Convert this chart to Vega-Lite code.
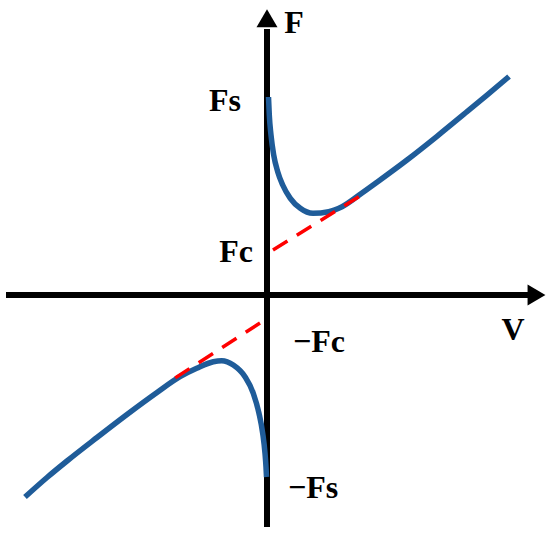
{
  "$schema": "https://vega.github.io/schema/vega-lite/v6.json",
  "width": 550,
  "height": 534,
  "autosize": "none",
  "padding": 0,
  "background": "white",
  "config": {"view": {"stroke": null}},
  "datasets": {
    "axes": [
      {"x1": -26.1, "y1": 0, "x2": 26.4, "y2": 0},
      {"x1": 0, "y1": -23.2, "x2": 0, "y2": 26.6}
    ],
    "arrowUp": [{"v": 0, "f": 27.68}],
    "arrowRight": [{"v": 26.95, "f": 0}],
    "curve": [
      {"branch": "pos", "v": 0.15, "f": 19.8},
      {"branch": "pos", "v": 0.23, "f": 18.0},
      {"branch": "pos", "v": 0.4, "f": 16.0},
      {"branch": "pos", "v": 0.67, "f": 14.0},
      {"branch": "pos", "v": 1.07, "f": 12.33},
      {"branch": "pos", "v": 1.57, "f": 11.0},
      {"branch": "pos", "v": 2.33, "f": 9.67},
      {"branch": "pos", "v": 3.33, "f": 8.67},
      {"branch": "pos", "v": 4.6, "f": 8.17},
      {"branch": "pos", "v": 6.17, "f": 8.33},
      {"branch": "pos", "v": 7.5, "f": 8.83},
      {"branch": "pos", "v": 9.5, "f": 10.2},
      {"branch": "pos", "v": 11, "f": 11.28},
      {"branch": "pos", "v": 14, "f": 13.5},
      {"branch": "pos", "v": 17, "f": 15.87},
      {"branch": "pos", "v": 20, "f": 18.33},
      {"branch": "pos", "v": 22, "f": 19.99},
      {"branch": "pos", "v": 24.2, "f": 21.85},
      {"branch": "neg", "v": -0.05, "f": -18.2},
      {"branch": "neg", "v": -0.1, "f": -17.2},
      {"branch": "neg", "v": -0.2, "f": -15.83},
      {"branch": "neg", "v": -0.43, "f": -13.83},
      {"branch": "neg", "v": -0.8, "f": -11.83},
      {"branch": "neg", "v": -1.37, "f": -9.83},
      {"branch": "neg", "v": -2.2, "f": -8.17},
      {"branch": "neg", "v": -3.37, "f": -7.0},
      {"branch": "neg", "v": -4.53, "f": -6.57},
      {"branch": "neg", "v": -5.37, "f": -6.67},
      {"branch": "neg", "v": -7.03, "f": -7.33},
      {"branch": "neg", "v": -8.7, "f": -8.17},
      {"branch": "neg", "v": -11, "f": -9.75},
      {"branch": "neg", "v": -14, "f": -11.95},
      {"branch": "neg", "v": -17, "f": -14.25},
      {"branch": "neg", "v": -20, "f": -16.6},
      {"branch": "neg", "v": -22, "f": -18.25},
      {"branch": "neg", "v": -24.2, "f": -20.2}
    ],
    "coulomb": [
      {"branch": "pos", "o": 0, "v": 0.6, "f": 4.5},
      {"branch": "pos", "o": 1, "v": 9.3, "f": 9.9},
      {"branch": "neg", "o": 0, "v": -0.7, "f": -2.8},
      {"branch": "neg", "o": 1, "v": -9.2, "f": -8.3}
    ],
    "labels": [
      {"text": "F", "v": 2.7, "f": 26.2},
      {"text": "Fs", "v": -4.2, "f": 18.4},
      {"text": "Fc", "v": -3.1, "f": 3.3},
      {"text": "−Fc", "v": 5.2, "f": -5.7},
      {"text": "−Fs", "v": 4.6, "f": -20.3},
      {"text": "V", "v": 24.6, "f": -4.5}
    ]
  },
  "layer": [
    {
      "data": {"name": "axes"},
      "mark": {"type": "rule", "color": "black", "strokeWidth": 6, "strokeCap": "butt"},
      "encoding": {
        "x": {"field": "x1", "type": "quantitative", "axis": null, "scale": {"domain": [-26.7, 28.3], "nice": false, "zero": false}},
        "y": {"field": "y1", "type": "quantitative", "axis": null, "scale": {"domain": [-23.9, 29.5], "nice": false, "zero": false}},
        "x2": {"field": "x2"},
        "y2": {"field": "y2"}
      }
    },
    {
      "data": {"name": "arrowUp"},
      "mark": {"type": "point", "shape": "M0,-0.85L1,0.85L-1,0.85Z", "size": 441, "filled": true, "color": "black", "opacity": 1, "strokeWidth": 0},
      "encoding": {
        "x": {"field": "v", "type": "quantitative"},
        "y": {"field": "f", "type": "quantitative"}
      }
    },
    {
      "data": {"name": "arrowRight"},
      "mark": {"type": "point", "shape": "M0.85,0L-0.85,-1L-0.85,1Z", "size": 441, "filled": true, "color": "black", "opacity": 1, "strokeWidth": 0},
      "encoding": {
        "x": {"field": "v", "type": "quantitative"},
        "y": {"field": "f", "type": "quantitative"}
      }
    },
    {
      "data": {"name": "curve"},
      "mark": {"type": "line", "color": "#1F5C99", "strokeWidth": 5.5, "strokeCap": "butt", "interpolate": "monotone"},
      "encoding": {
        "x": {"field": "v", "type": "quantitative"},
        "y": {"field": "f", "type": "quantitative"},
        "detail": {"field": "branch", "type": "nominal"}
      }
    },
    {
      "data": {"name": "coulomb"},
      "mark": {"type": "line", "color": "#FF0000", "strokeWidth": 3.5, "strokeDash": [17, 11], "strokeCap": "butt"},
      "encoding": {
        "x": {"field": "v", "type": "quantitative"},
        "y": {"field": "f", "type": "quantitative"},
        "detail": {"field": "branch", "type": "nominal"},
        "order": {"field": "o", "type": "quantitative"}
      }
    },
    {
      "data": {"name": "labels"},
      "mark": {"type": "text", "font": "Liberation Serif", "fontWeight": "bold", "fontSize": 32, "align": "center", "baseline": "alphabetic", "color": "black"},
      "encoding": {
        "x": {"field": "v", "type": "quantitative"},
        "y": {"field": "f", "type": "quantitative"},
        "text": {"field": "text"}
      }
    }
  ]
}
